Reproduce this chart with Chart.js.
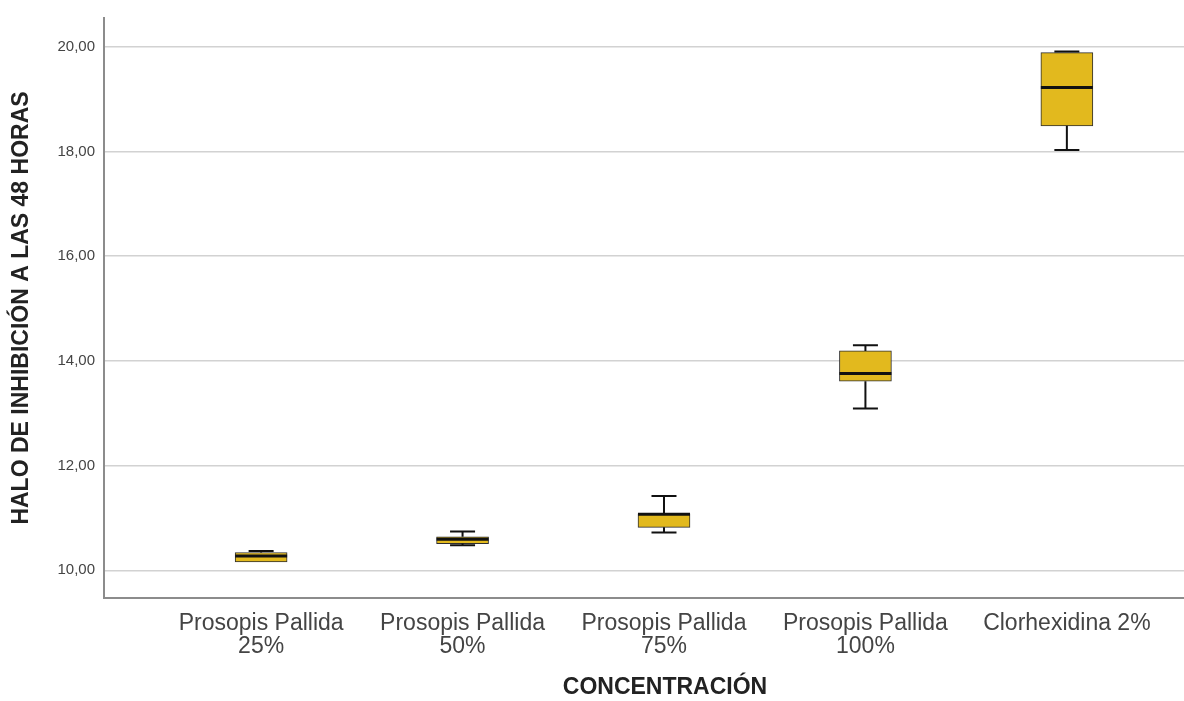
<!DOCTYPE html>
<html>
<head>
<meta charset="utf-8">
<script src="https://cdn.jsdelivr.net/npm/chart.js@4"></script>
<style>
  html, body { margin: 0; padding: 0; background: #fff; overflow: hidden; }
  #wrap { width: 1184px; height: 701px; overflow: hidden; }
</style>
</head>
<body>
<div id="wrap"><canvas id="chart" width="1226" height="701"></canvas></div>
<script>
// grupos y valores (mm)
const categories = [
    ["Prosopis Pallida", "25%"],
    ["Prosopis Pallida", "50%"],
    ["Prosopis Pallida", "75%"],
    ["Prosopis Pallida", "100%"],
    "Clorhexidina 2%"
];
const whiskerLow  = [10.16, 10.48, 10.72, 13.09, 18.03];
const q1          = [10.16, 10.51, 10.82, 13.61, 18.49];
const median      = [10.27, 10.59, 11.07, 13.76, 19.22];
const q3          = [10.34, 10.64, 11.08, 14.19, 19.89];
const whiskerHigh = [10.37, 10.74, 11.42, 14.30, 19.91];
const yTicks = [10, 12, 14, 16, 18, 20];

const boxColor = "#E2B91E";

// bigotes y mediana, dibujados con las escalas del grafico
const boxExtras = {
    id: "boxExtras",
    afterDatasetsDraw(chart) {
        const ctx = chart.ctx;
        const xs = chart.scales.x;
        const ys = chart.scales.y;
        ctx.save();
        ctx.strokeStyle = "#111";
        categories.forEach((c, i) => {
            const x = xs.getPixelForValue(i);
            const cap = 12.5;
            ctx.lineWidth = 2;
            ctx.beginPath();
            ctx.moveTo(x, ys.getPixelForValue(q3[i]));
            ctx.lineTo(x, ys.getPixelForValue(whiskerHigh[i]));
            ctx.moveTo(x - cap, ys.getPixelForValue(whiskerHigh[i]));
            ctx.lineTo(x + cap, ys.getPixelForValue(whiskerHigh[i]));
            if (whiskerLow[i] < q1[i]) {
                ctx.moveTo(x, ys.getPixelForValue(q1[i]));
                ctx.lineTo(x, ys.getPixelForValue(whiskerLow[i]));
                ctx.moveTo(x - cap, ys.getPixelForValue(whiskerLow[i]));
                ctx.lineTo(x + cap, ys.getPixelForValue(whiskerLow[i]));
            }
            ctx.stroke();
            ctx.lineWidth = 3;
            ctx.beginPath();
            ctx.moveTo(x - 26, ys.getPixelForValue(median[i]));
            ctx.lineTo(x + 26, ys.getPixelForValue(median[i]));
            ctx.stroke();
        });
        ctx.restore();
    }
};

const ctx = document.getElementById("chart").getContext("2d");
const chart = new Chart(ctx, {
    type: "bar",
    data: {
        datasets: [{
            data: categories.map((c, i) => ({ x: i, y: [q1[i], q3[i]] })),
            backgroundColor: boxColor,
            borderColor: "#2e2e2e",
            borderWidth: 1,
            borderSkipped: false,
            barThickness: 52
        }]
    },
    options: {
        responsive: false,
        animation: false,
        layout: { padding: { top: 16, right: 0, left: 0, bottom: 0 } },
        plugins: {
            legend: { display: false },
            tooltip: { enabled: false }
        },
        scales: {
            x: {
                type: "linear",
                offset: false,
                min: -0.78,
                max: 4.79,
                afterBuildTicks: (scale) => {
                    scale.ticks = categories.map((c, i) => ({ value: i }));
                },
                afterFit: (scale) => { scale.height = 103; },
                grid: { drawOnChartArea: false, drawTicks: false, offset: false },
                border: { display: true, color: "#8c8c8c", width: 2 },
                ticks: {
                    autoSkip: false,
                    maxRotation: 0,
                    padding: 14,
                    color: "#444",
                    font: { family: "'Liberation Sans', Arial, sans-serif", size: 23, lineHeight: 1.0 },
                    callback: (v) => categories[v]
                },
                title: {
                    display: true,
                    text: "CONCENTRACIÓN",
                    color: "#222",
                    padding: { top: 0, bottom: 0 },
                    font: { family: "'Liberation Sans', Arial, sans-serif", size: 23, weight: "bold" }
                }
            },
            y: {
                min: 9.47,
                max: 20.55,
                afterBuildTicks: (scale) => {
                    scale.ticks = yTicks.map(v => ({ value: v }));
                },
                afterFit: (scale) => { scale.width = 104; },
                grid: { color: "#d2d2d2", lineWidth: 1.5, drawTicks: false },
                border: { display: true, color: "#8c8c8c", width: 2 },
                ticks: {
                    padding: 9,
                    color: "#444",
                    font: { family: "'Liberation Sans', Arial, sans-serif", size: 15 },
                    callback: (v) => v.toFixed(2).replace(".", ",")
                },
                title: {
                    display: true,
                    text: "HALO DE INHIBICIÓN A LAS 48 HORAS",
                    color: "#222",
                    padding: { top: 8, bottom: 0 },
                    font: { family: "'Liberation Sans', Arial, sans-serif", size: 23, weight: "bold" }
                }
            }
        }
    },
    plugins: [boxExtras]
});
</script>
</body>
</html>
